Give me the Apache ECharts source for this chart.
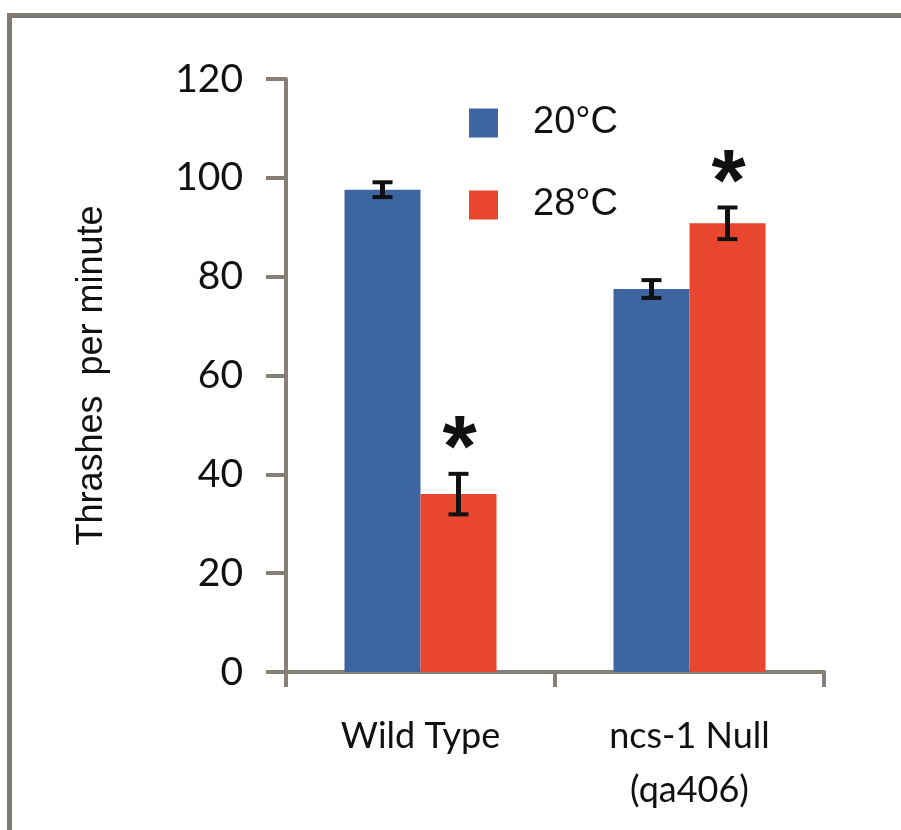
<!DOCTYPE html>
<html>
<head>
<meta charset="utf-8">
<script src="https://cdn.jsdelivr.net/npm/echarts@6/dist/echarts.min.js"></script>
<style>html,body{margin:0;padding:0;background:#fff;}#c{width:901px;height:830px;}</style>
</head>
<body>
<div id="c"></div>
<script>
// ---- data ----
const categories = ['Wild Type', 'ncs-1 Null\n(qa406)'];
const seriesNames = ['20°C', '28°C'];
const mean20 = [97.6, 77.5];
const mean28 = [36.0, 90.8];
const err20 = [1.5, 1.8];
const err28 = [4.1, 3.2];
const stars20 = ['', ''];
const stars28 = ['*', '*'];
const yTicks = { min: 0, max: 120, interval: 20 };

// ---- style ----
const BLUE = '#3d65a1';
const RED = '#e8462e';
const GRAY = '#857f78';
const INK = '#111111';
const BAR_W = 76;

function errSeries(name, means, errs, stars, side) {
  return {
    type: 'custom',
    name: name + ' err',
    clip: false,
    z: 10,
    silent: true,
    data: means.map((m, i) => [i, m, errs[i]]),
    renderItem: function (params, api) {
      const i = api.value(0);
      const m = api.value(1);
      const e = api.value(2);
      const star = stars[params.dataIndex];
      const c = api.coord([i, m]);
      const top = api.coord([i, m + e]);
      const bot = api.coord([i, m - e]);
      const x = c[0] + side * BAR_W / 2;
      const cap = 10;
      const children = [
        { type: 'line', shape: { x1: x, y1: top[1], x2: x, y2: bot[1] }, style: { stroke: INK, lineWidth: 5 } },
        { type: 'line', shape: { x1: x - cap, y1: top[1], x2: x + cap, y2: top[1] }, style: { stroke: INK, lineWidth: 4 } },
        { type: 'line', shape: { x1: x - cap, y1: bot[1], x2: x + cap, y2: bot[1] }, style: { stroke: INK, lineWidth: 4 } }
      ];
      if (star) {
        children.push({
          type: 'text',
          style: { text: star, x: x + 1, y: top[1] - 22, align: 'center', verticalAlign: 'middle', font: 'bold 88px "Liberation Sans"', fill: INK }
        });
      }
      return { type: 'group', children: children };
    }
  };
}

const chart = echarts.init(document.getElementById('c'), null, { renderer: 'canvas' });
chart.setOption({
  animation: false,
  backgroundColor: '#ffffff',
  graphic: [{
    type: 'rect', z: 100, silent: true,
    shape: { x: 9.5, y: 15.5, width: 1200, height: 1200 },
    style: { fill: 'none', stroke: '#7f7a73', lineWidth: 5 }
  }],
  legend: {
    orient: 'vertical',
    left: 469, top: 104,
    itemWidth: 29, itemHeight: 29, itemGap: 44,
    padding: 0,
    icon: 'rect',
    data: seriesNames,
    textStyle: { fontSize: 38, fontFamily: '"Liberation Sans"', color: INK, padding: [0, 0, 0, 30] }
  },
  grid: { left: 286, right: 77, top: 79, bottom: 158, containLabel: false },
  xAxis: {
    type: 'category',
    data: categories,
    axisLine: { show: true, lineStyle: { color: GRAY, width: 4 } },
    axisTick: { show: true, length: 15, lineStyle: { color: GRAY, width: 4 } },
    axisLabel: { interval: 0, fontSize: 36, lineHeight: 54, margin: 37, color: INK, fontFamily: 'Lato' }
  },
  yAxis: {
    type: 'value',
    min: yTicks.min, max: yTicks.max, interval: yTicks.interval,
    name: 'Thrashes  per minute',
    nameLocation: 'middle',
    nameRotate: 90,
    nameGap: 176,
    nameTextStyle: { fontSize: 36, fontFamily: '"Liberation Sans"', color: INK },
    axisLine: { show: true, lineStyle: { color: GRAY, width: 4 } },
    axisTick: { show: true, length: 20, lineStyle: { color: GRAY, width: 4 } },
    splitLine: { show: false },
    axisLabel: { fontSize: 39, fontFamily: 'Lato', color: INK, margin: 43 }
  },
  series: [
    { type: 'bar', name: seriesNames[0], data: mean20, barWidth: BAR_W, barGap: '0%', itemStyle: { color: BLUE } },
    { type: 'bar', name: seriesNames[1], data: mean28, barWidth: BAR_W, barGap: '0%', itemStyle: { color: RED } },
    errSeries(seriesNames[0], mean20, err20, stars20, -1),
    errSeries(seriesNames[1], mean28, err28, stars28, 1)
  ]
});
</script>
</body>
</html>
